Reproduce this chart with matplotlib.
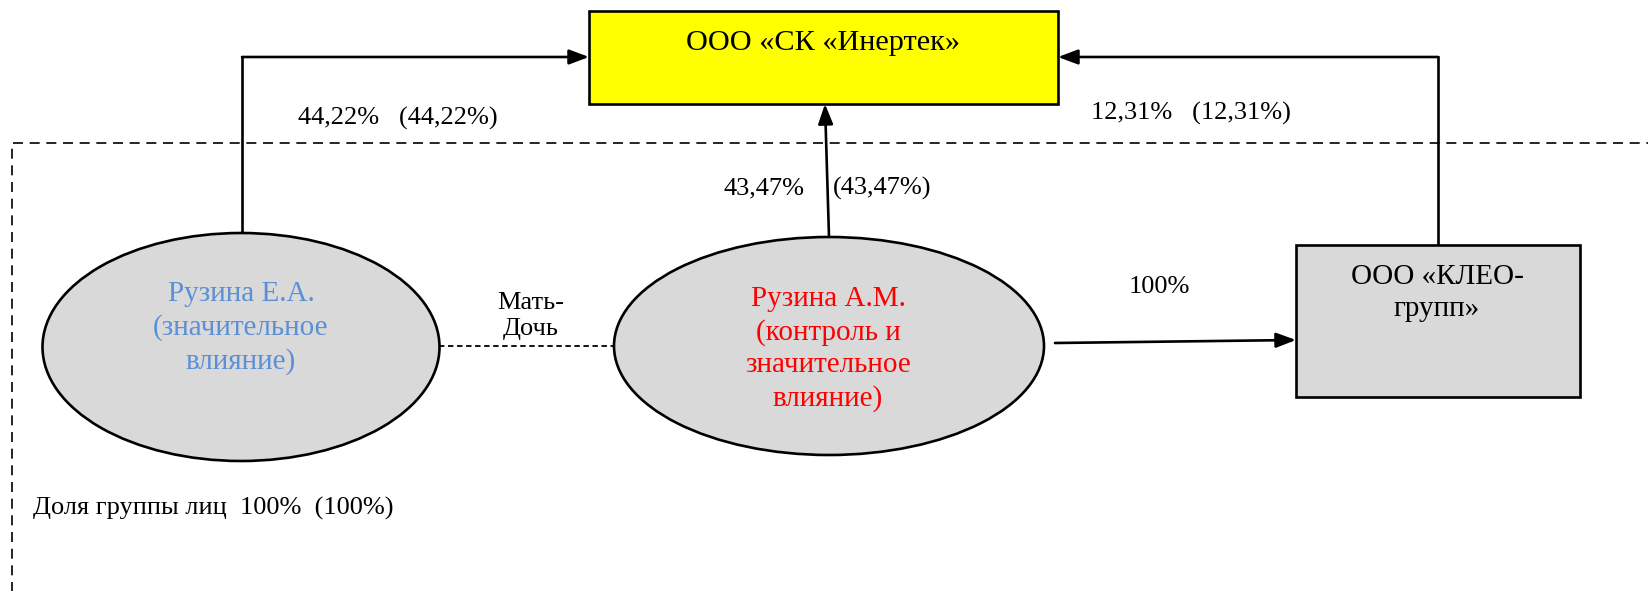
import matplotlib.pyplot as plt
from matplotlib.patches import Ellipse, Rectangle

plt.rcParams['font.family'] = ['Liberation Serif', 'DejaVu Serif']

# companies / persons and their shares (direct and total)
target = 'ООО «СК «Инертек»'
kleo = 'ООО «КЛЕО-\nгрупп»'
person_e = 'Рузина Е.А.\n(значительное\nвлияние)'
person_a = 'Рузина А.М.\n(контроль и\nзначительное\nвлияние)'
relation = 'Мать-\nДочь'
share_e = ['44,22%', '(44,22%)']
share_a = ['43,47%', '(43,47%)']
share_kleo = ['12,31%', '(12,31%)']
share_a_kleo = '100%'
group_share = ['100%', '(100%)']

W, H = 1648, 591
fig = plt.figure(figsize=(W / 100, H / 100), dpi=100)
ax = fig.add_axes([0, 0, 1, 1])
ax.set_xlim(0, W)
ax.set_ylim(H, 0)
ax.axis('off')

fs = 21      # text in boxes / ellipses
fs2 = 19     # share labels
lw = 1.9
ls = 1.33

# group border (dashed, open to the right and bottom)
ax.plot([12, 12, W + 5], [H + 5, 143, 143], color='black', lw=1.2,
        dashes=(6, 4), zorder=1)

# boxes
ax.add_patch(Rectangle((589, 11), 469, 93, facecolor='#ffff00',
                       edgecolor='black', lw=lw, zorder=3))
ax.text(823, 43, target, ha='center', va='center', fontsize=fs + 0.8, zorder=4)

ax.add_patch(Rectangle((1296, 245), 284, 152, facecolor='#d9d9d9',
                       edgecolor='black', lw=lw, zorder=3))
ax.text(1437, 293, kleo, ha='center', va='center', fontsize=fs,
        linespacing=ls * 0.95, zorder=4)

# persons
ax.add_patch(Ellipse((241, 347), 397, 228, facecolor='#d9d9d9',
                     edgecolor='black', lw=lw, zorder=3))
ax.text(241, 328, person_e, ha='center', va='center', fontsize=fs,
        color='#5b8fd6', linespacing=ls, zorder=4)

ax.add_patch(Ellipse((829, 346), 430, 218, facecolor='#d9d9d9',
                     edgecolor='black', lw=lw, zorder=3))
ax.text(828, 349, person_a, ha='center', va='center', fontsize=fs,
        color='red', linespacing=ls, zorder=4)

# relation
ax.plot([439, 614], [346, 346], color='black', lw=1.3, dashes=(3, 2), zorder=2)
ax.text(531, 316, relation, ha='center', va='center', fontsize=fs2,
        linespacing=1.25, zorder=4)

arrow = dict(arrowstyle='-|>,head_length=1.2,head_width=0.45', color='black',
             lw=lw, shrinkA=0, shrinkB=0)

# Рузина Е.А. -> target
ax.plot([242, 242], [233, 57], color='black', lw=lw, zorder=2)
ax.annotate('', xy=(589, 57), xytext=(242, 57), arrowprops=arrow, zorder=2)
ax.text(298, 118, share_e[0] + '   ' + share_e[1], ha='left', va='center',
        fontsize=fs2)

# Рузина А.М. -> target
ax.annotate('', xy=(825, 104), xytext=(829, 237), arrowprops=arrow, zorder=2)
ax.text(805, 188, share_a[0], ha='right', va='center', fontsize=fs2)
ax.text(833, 188, share_a[1], ha='left', va='center', fontsize=fs2)

# КЛЕО -> target
ax.plot([1438, 1438], [245, 57], color='black', lw=lw, zorder=2)
ax.annotate('', xy=(1058, 57), xytext=(1438, 57), arrowprops=arrow, zorder=2)
ax.text(1091, 113, share_kleo[0] + '   ' + share_kleo[1], ha='left',
        va='center', fontsize=fs2)

# Рузина А.М. -> КЛЕО
ax.annotate('', xy=(1296, 340), xytext=(1055, 343), arrowprops=arrow, zorder=2)
ax.text(1159, 287, share_a_kleo, ha='center', va='center', fontsize=fs2)

ax.text(33, 508, 'Доля группы лиц  ' + group_share[0] + '  ' + group_share[1],
        ha='left', va='center', fontsize=fs2)

fig.savefig('out.png', dpi=100)
